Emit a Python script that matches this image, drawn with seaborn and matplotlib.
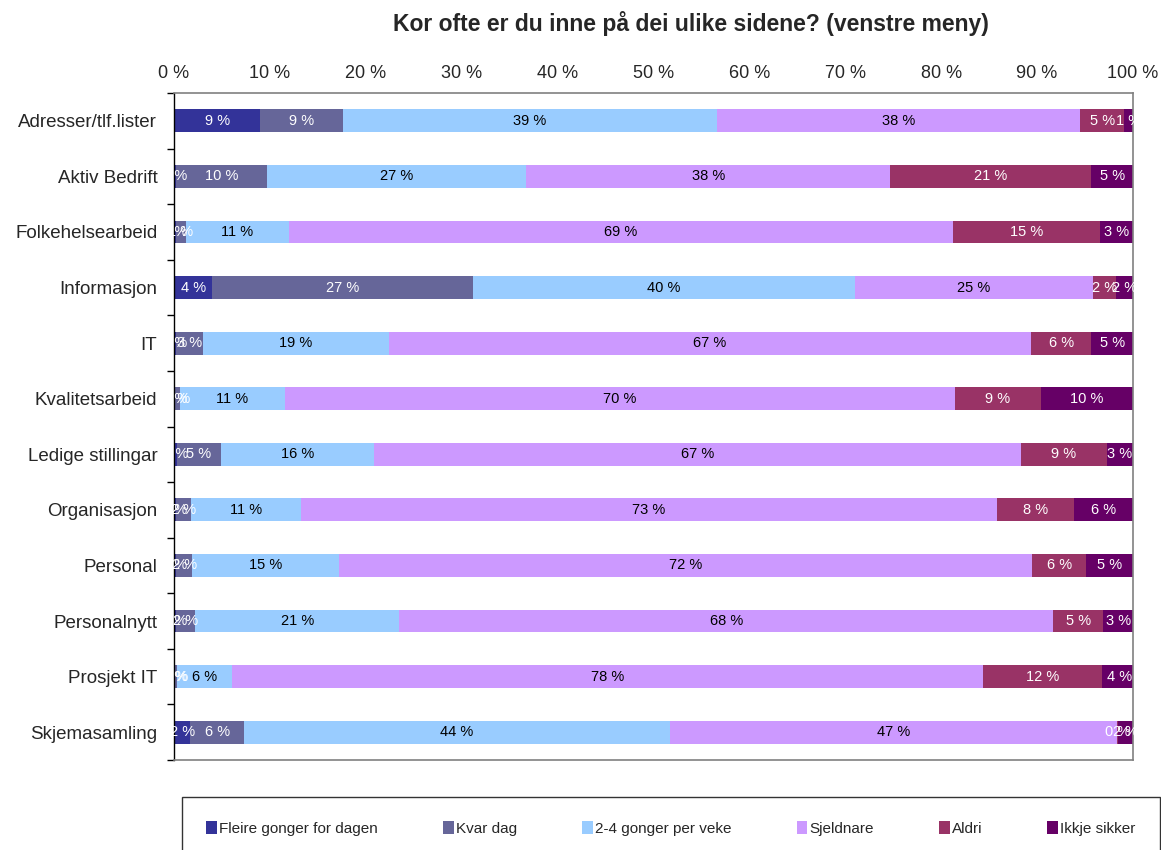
import matplotlib
matplotlib.use("Agg")
import matplotlib.pyplot as plt
import seaborn as sns
import numpy as np
import pandas as pd
from matplotlib.patches import Patch

sns.set_theme(style="white")
plt.rcParams['font.family'] = ['Liberation Sans', 'DejaVu Sans']

title = "Kor ofte er du inne på dei ulike sidene? (venstre meny)"
categories = ["Adresser/tlf.lister", "Aktiv Bedrift", "Folkehelsearbeid", "Informasjon", "IT",
              "Kvalitetsarbeid", "Ledige stillingar", "Organisasjon", "Personal", "Personalnytt",
              "Prosjekt IT", "Skjemasamling"]
series = ["Fleire gonger for dagen", "Kvar dag", "2-4 gonger per veke", "Sjeldnare", "Aldri", "Ikkje sikker"]

fleire    = [9.0, 0.2, 0.2, 4.0, 0.2, 0.1, 0.3, 0.2, 0.2, 0.2, 0.1, 1.7]
kvar_dag  = [8.6, 9.5, 1.0, 27.2, 2.8, 0.5, 4.6, 1.6, 1.7, 2.0, 0.2, 5.6]
to_fire   = [39.0, 27.0, 10.8, 39.8, 19.4, 11.0, 16.0, 11.4, 15.3, 21.3, 5.8, 44.4]
sjeldnare = [37.9, 38.0, 69.2, 24.8, 67.0, 69.8, 67.4, 72.6, 72.3, 68.2, 78.3, 46.6]
aldri     = [4.6, 20.9, 15.4, 2.4, 6.2, 9.0, 9.0, 8.0, 5.6, 5.2, 12.4, 0.1]
ikkje     = [0.9, 4.6, 3.4, 1.8, 4.6, 9.6, 2.7, 6.2, 4.9, 3.1, 3.6, 1.6]

colors = ["#333399", "#666699", "#99CCFF", "#CC99FF", "#993366", "#660066"]
text_colors = ["white", "white", "black", "black", "white", "white"]

values = np.array([fleire, kvar_dag, to_fire, sjeldnare, aldri, ikkje])
cum = np.cumsum(values, axis=0)

W, H = 1161, 850
fig = plt.figure(figsize=(W / 100, H / 100), dpi=100)
ax = fig.add_axes([174 / W, 1 - 760 / H, (1133 - 174) / W, (760 - 93) / H])

# draw from the largest cumulative down so each segment shows
for i in range(len(series) - 1, -1, -1):
    df = pd.DataFrame({"cat": categories, "val": cum[i]})
    sns.barplot(data=df, x="val", y="cat", orient="h", color=colors[i],
                saturation=1, width=0.41, ax=ax, linewidth=0)

# labels
for i in range(len(series)):
    starts = cum[i] - values[i]
    for j, cat in enumerate(categories):
        ax.text(starts[j] + values[i][j] / 2, j, f"{values[i][j]:.0f} %",
                ha="center", va="center", fontsize=10.5, color=text_colors[i])

ax.set_xlim(0, 100)
ax.set_ylim(len(categories) - 0.5, -0.5)
ax.xaxis.tick_top()
ax.set_xticks(np.arange(0, 101, 10))
ax.set_xticklabels([f"{t} %" for t in range(0, 101, 10)], fontsize=13)
ax.tick_params(axis="x", length=0, pad=8)
ax.set_yticks(range(len(categories)))
ax.set_yticklabels(categories, fontsize=13.5)
ax.set_yticks(np.arange(-0.5, len(categories), 1), minor=True)
ax.tick_params(axis="y", which="major", length=0, pad=12)
ax.tick_params(axis="y", which="minor", length=5, width=1, color="black", direction="out", left=True)
ax.set_xlabel("")
ax.set_ylabel("")
for s in ["top", "right", "bottom"]:
    ax.spines[s].set_color("#808080")
    ax.spines[s].set_linewidth(1.2)
ax.spines["left"].set_color("black")
ax.spines["left"].set_linewidth(1)

fig.text(691 / W, 1 - 24 / H, title, ha="center", va="center", fontsize=16.5, fontweight="bold")

handles = [Patch(facecolor=c, edgecolor="none") for c in colors]
leg = fig.legend(handles, series, loc="upper left", bbox_to_anchor=(182 / W, 1 - 797 / H),
                 ncol=6, fontsize=11, frameon=True, fancybox=False, edgecolor="black",
                 handlelength=0.7, handleheight=0.9, handletextpad=0.15, columnspacing=4.25,
                 borderpad=1.6, borderaxespad=0)
leg.get_frame().set_linewidth(1)
fig.canvas.draw()
# nudge left padding so the first marker sits where the reference has it
leg._legend_box.set_offset  # keep default layout

fig.savefig("out.png", dpi=100)
